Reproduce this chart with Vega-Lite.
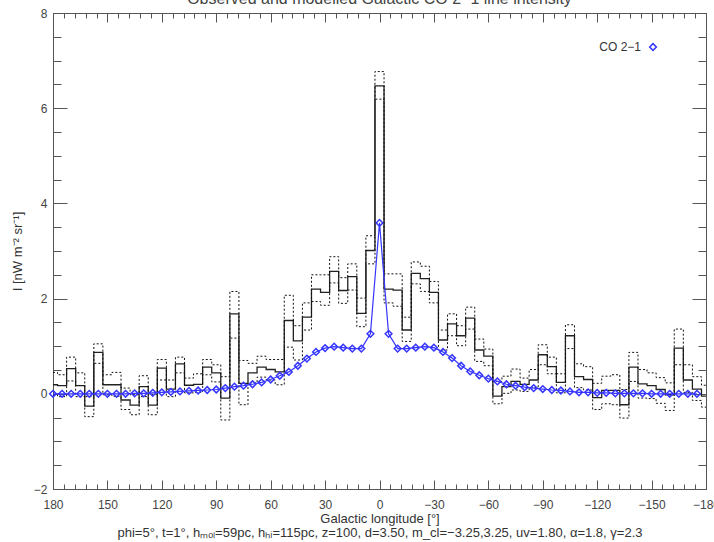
{
  "$schema": "https://vega.github.io/schema/vega-lite/v6.json",
  "width": 653,
  "height": 476,
  "autosize": {"type": "none"},
  "padding": {"left": 53, "top": 13, "right": 8, "bottom": 53},
  "background": "white",
  "config": {
    "view": {"stroke": "#555", "strokeWidth": 1},
    "font": "Liberation Sans",
    "axis": {"grid": false, "domain": false, "tickColor": "#555", "tickWidth": 1, "labelFont": "Liberation Sans", "labelFontSize": 12, "labelColor": "#444", "titleFont": "Liberation Sans", "titleFontSize": 13, "titleFontWeight": "normal", "titleColor": "#333", "labelFlush": false, "labelOverlap": false}
  },
  "title": {"text": "Observed and modelled Galactic CO 2\u22121 line intensity", "anchor": "middle", "frame": "group", "offset": -13, "baseline": "alphabetic", "fontSize": 16, "fontWeight": "normal", "color": "#444", "font": "Liberation Sans"},
  "data": {"values": [
    {"lon": 180, "obs": 0.19, "hi": 0.45, "lo": -0.02, "model": 0.0},
    {"lon": 175, "obs": 0.17, "hi": 0.40, "lo": -0.06, "model": 0.0},
    {"lon": 170, "obs": 0.53, "hi": 0.77, "lo": 0.27, "model": 0.0},
    {"lon": 165, "obs": 0.17, "hi": 0.44, "lo": -0.06, "model": 0.0},
    {"lon": 160, "obs": -0.26, "hi": -0.06, "lo": -0.48, "model": 0.0},
    {"lon": 155, "obs": 0.87, "hi": 1.05, "lo": 0.64, "model": 0.0},
    {"lon": 150, "obs": 0.19, "hi": 0.40, "lo": -0.02, "model": 0.0},
    {"lon": 145, "obs": 0.19, "hi": 0.45, "lo": -0.05, "model": 0.0},
    {"lon": 140, "obs": -0.13, "hi": 0.12, "lo": -0.33, "model": 0.0},
    {"lon": 135, "obs": -0.24, "hi": -0.02, "lo": -0.44, "model": 0.01},
    {"lon": 130, "obs": 0.15, "hi": 0.38, "lo": -0.06, "model": 0.01},
    {"lon": 125, "obs": -0.24, "hi": -0.01, "lo": -0.44, "model": 0.02},
    {"lon": 120, "obs": 0.54, "hi": 0.72, "lo": 0.29, "model": 0.03},
    {"lon": 115, "obs": 0.10, "hi": 0.29, "lo": -0.06, "model": 0.04},
    {"lon": 110, "obs": 0.63, "hi": 0.77, "lo": 0.44, "model": 0.05},
    {"lon": 105, "obs": 0.18, "hi": 0.33, "lo": 0.02, "model": 0.06},
    {"lon": 100, "obs": 0.20, "hi": 0.42, "lo": 0.03, "model": 0.07},
    {"lon": 95, "obs": 0.56, "hi": 0.72, "lo": 0.40, "model": 0.08},
    {"lon": 90, "obs": 0.44, "hi": 0.61, "lo": 0.25, "model": 0.09},
    {"lon": 85, "obs": -0.09, "hi": 0.36, "lo": -0.55, "model": 0.12},
    {"lon": 80, "obs": 1.68, "hi": 2.15, "lo": 1.17, "model": 0.15},
    {"lon": 75, "obs": 0.22, "hi": 0.70, "lo": -0.23, "model": 0.17},
    {"lon": 70, "obs": 0.44, "hi": 0.64, "lo": 0.23, "model": 0.20},
    {"lon": 65, "obs": 0.56, "hi": 0.79, "lo": 0.35, "model": 0.24},
    {"lon": 60, "obs": 0.51, "hi": 0.72, "lo": 0.29, "model": 0.30},
    {"lon": 55, "obs": 0.46, "hi": 0.72, "lo": 0.19, "model": 0.38},
    {"lon": 50, "obs": 1.54, "hi": 2.07, "lo": 0.98, "model": 0.46},
    {"lon": 45, "obs": 1.11, "hi": 1.43, "lo": 0.71, "model": 0.59},
    {"lon": 40, "obs": 1.61, "hi": 1.91, "lo": 1.34, "model": 0.74},
    {"lon": 35, "obs": 2.20, "hi": 2.50, "lo": 1.94, "model": 0.88},
    {"lon": 30, "obs": 2.13, "hi": 2.50, "lo": 1.86, "model": 0.96},
    {"lon": 25, "obs": 2.57, "hi": 2.88, "lo": 2.33, "model": 0.99},
    {"lon": 20, "obs": 2.17, "hi": 2.44, "lo": 1.90, "model": 0.97},
    {"lon": 15, "obs": 2.46, "hi": 2.73, "lo": 2.18, "model": 0.95},
    {"lon": 10, "obs": 1.69, "hi": 2.01, "lo": 1.41, "model": 0.95},
    {"lon": 5, "obs": 3.01, "hi": 3.32, "lo": 2.73, "model": 1.26},
    {"lon": 0, "obs": 6.47, "hi": 6.77, "lo": 6.19, "model": 3.59},
    {"lon": -5, "obs": 2.20, "hi": 2.52, "lo": 1.91, "model": 1.26},
    {"lon": -10, "obs": 2.18, "hi": 2.52, "lo": 1.84, "model": 0.95},
    {"lon": -15, "obs": 1.34, "hi": 1.61, "lo": 1.10, "model": 0.95},
    {"lon": -20, "obs": 2.53, "hi": 2.77, "lo": 2.31, "model": 0.97},
    {"lon": -25, "obs": 2.42, "hi": 2.68, "lo": 2.15, "model": 0.99},
    {"lon": -30, "obs": 2.13, "hi": 2.36, "lo": 1.91, "model": 0.97},
    {"lon": -35, "obs": 1.13, "hi": 1.34, "lo": 0.92, "model": 0.88},
    {"lon": -40, "obs": 1.47, "hi": 1.68, "lo": 1.22, "model": 0.75},
    {"lon": -45, "obs": 1.22, "hi": 1.43, "lo": 1.01, "model": 0.59},
    {"lon": -50, "obs": 1.59, "hi": 1.82, "lo": 1.36, "model": 0.47},
    {"lon": -55, "obs": 0.92, "hi": 1.15, "lo": 0.68, "model": 0.39},
    {"lon": -60, "obs": 0.79, "hi": 0.94, "lo": 0.59, "model": 0.32},
    {"lon": -65, "obs": -0.05, "hi": 0.26, "lo": -0.21, "model": 0.26},
    {"lon": -70, "obs": 0.15, "hi": 0.37, "lo": 0.01, "model": 0.20},
    {"lon": -75, "obs": 0.26, "hi": 0.52, "lo": 0.08, "model": 0.17},
    {"lon": -80, "obs": 0.20, "hi": 0.33, "lo": 0.05, "model": 0.14},
    {"lon": -85, "obs": 0.29, "hi": 0.51, "lo": 0.13, "model": 0.12},
    {"lon": -90, "obs": 0.82, "hi": 1.03, "lo": 0.61, "model": 0.10},
    {"lon": -95, "obs": 0.57, "hi": 0.77, "lo": 0.42, "model": 0.08},
    {"lon": -100, "obs": 0.24, "hi": 0.42, "lo": 0.02, "model": 0.07},
    {"lon": -105, "obs": 1.22, "hi": 1.45, "lo": 0.95, "model": 0.05},
    {"lon": -110, "obs": 0.36, "hi": 0.63, "lo": 0.13, "model": 0.03},
    {"lon": -115, "obs": 0.30, "hi": 0.57, "lo": 0.08, "model": 0.03},
    {"lon": -120, "obs": -0.08, "hi": 0.22, "lo": -0.33, "model": 0.02},
    {"lon": -125, "obs": 0.07, "hi": 0.37, "lo": -0.21, "model": 0.02},
    {"lon": -130, "obs": 0.07, "hi": 0.40, "lo": -0.23, "model": 0.01},
    {"lon": -135, "obs": -0.23, "hi": 0.09, "lo": -0.51, "model": 0.01},
    {"lon": -140, "obs": 0.56, "hi": 0.87, "lo": 0.26, "model": 0.01},
    {"lon": -145, "obs": 0.21, "hi": 0.51, "lo": -0.09, "model": 0.01},
    {"lon": -150, "obs": 0.17, "hi": 0.44, "lo": -0.10, "model": 0.0},
    {"lon": -155, "obs": 0.09, "hi": 0.34, "lo": -0.20, "model": 0.0},
    {"lon": -160, "obs": -0.02, "hi": 0.23, "lo": -0.35, "model": 0.0},
    {"lon": -165, "obs": 0.96, "hi": 1.36, "lo": 0.61, "model": 0.0},
    {"lon": -170, "obs": 0.29, "hi": 0.61, "lo": 0.03, "model": 0.0},
    {"lon": -175, "obs": 0.10, "hi": 0.36, "lo": -0.14, "model": 0.0},
    {"lon": -180, "obs": -0.05, "hi": 0.18, "lo": -0.28, "model": null}
  ]},
  "resolve": {"scale": {"x": "independent", "y": "independent"}, "axis": {"x": "independent", "y": "independent"}},
  "layer": [
    {
      "mark": {"type": "line", "interpolate": "step", "color": "#222", "strokeWidth": 1.3},
      "encoding": {
        "x": {"field": "lon", "type": "quantitative", "scale": {"domain": [-180, 180], "reverse": true, "nice": false, "zero": false},
          "axis": {"orient": "bottom", "values": [180, 150, 120, 90, 60, 30, 0, -30, -60, -90, -120, -150, -180], "tickSize": -9, "labelPadding": 19, "title": ["Galactic longitude [\u00b0]", "phi=5\u00b0, t=1\u00b0, h\u2098\u2092\u2097=59pc, h\u2095\u1d62=115pc, z=100, d=3.50, m_cl=\u22123.25,3.25, uv=1.80, \u03b1=1.8, \u03b3=2.3"], "titlePadding": 2, "titleLineHeight": 14}},
        "y": {"field": "obs", "type": "quantitative", "scale": {"domain": [-2, 8], "nice": false, "zero": false},
          "axis": {"orient": "left", "values": [-2, 0, 2, 4, 6, 8], "tickSize": -14, "labelPadding": 20, "title": "I [nW m\u207b\u00b2 sr\u207b\u00b9]", "titlePadding": 9}}
      }
    },
    {
      "mark": {"type": "line", "interpolate": "step", "color": "#111", "strokeWidth": 1, "strokeDash": [2, 2]},
      "encoding": {
        "x": {"field": "lon", "type": "quantitative", "scale": {"domain": [-180, 180], "reverse": true, "nice": false, "zero": false},
          "axis": {"orient": "bottom", "values": [180,174,168,162,156,150,144,138,132,126,120,114,108,102,96,90,84,78,72,66,60,54,48,42,36,30,24,18,12,6,0,-6,-12,-18,-24,-30,-36,-42,-48,-54,-60,-66,-72,-78,-84,-90,-96,-102,-108,-114,-120,-126,-132,-138,-144,-150,-156,-162,-168,-174,-180], "tickSize": -5, "labels": false, "title": null}},
        "y": {"field": "hi", "type": "quantitative", "scale": {"domain": [-2, 8], "nice": false, "zero": false},
          "axis": {"orient": "left", "values": [-2,-1.5,-1,-0.5,0,0.5,1,1.5,2,2.5,3,3.5,4,4.5,5,5.5,6,6.5,7,7.5,8], "tickSize": -8, "labels": false, "title": null}}
      }
    },
    {
      "mark": {"type": "line", "interpolate": "step", "color": "#111", "strokeWidth": 1, "strokeDash": [2, 2]},
      "encoding": {
        "x": {"field": "lon", "type": "quantitative", "scale": {"domain": [-180, 180], "reverse": true, "nice": false, "zero": false},
          "axis": {"orient": "top", "values": [180, 150, 120, 90, 60, 30, 0, -30, -60, -90, -120, -150, -180], "tickSize": -9, "labels": false, "title": null}},
        "y": {"field": "lo", "type": "quantitative", "scale": {"domain": [-2, 8], "nice": false, "zero": false},
          "axis": {"orient": "right", "values": [-2, 0, 2, 4, 6, 8], "tickSize": -14, "labels": false, "title": null}}
      }
    },
    {
      "transform": [{"filter": "isValid(datum.model)"}],
      "mark": {"type": "line", "strokeWidth": 1.2, "point": {"shape": "diamond", "filled": false, "size": 45, "strokeWidth": 1.5}},
      "encoding": {
        "x": {"field": "lon", "type": "quantitative", "scale": {"domain": [-180, 180], "reverse": true, "nice": false, "zero": false},
          "axis": {"orient": "top", "values": [180,174,168,162,156,150,144,138,132,126,120,114,108,102,96,90,84,78,72,66,60,54,48,42,36,30,24,18,12,6,0,-6,-12,-18,-24,-30,-36,-42,-48,-54,-60,-66,-72,-78,-84,-90,-96,-102,-108,-114,-120,-126,-132,-138,-144,-150,-156,-162,-168,-174,-180], "tickSize": -5, "labels": false, "title": null}},
        "y": {"field": "model", "type": "quantitative", "scale": {"domain": [-2, 8], "nice": false, "zero": false},
          "axis": {"orient": "right", "values": [-2,-1.5,-1,-0.5,0,0.5,1,1.5,2,2.5,3,3.5,4,4.5,5,5.5,6,6.5,7,7.5,8], "tickSize": -8, "labels": false, "title": null}},
        "color": {"datum": "CO 2\u22121", "type": "nominal", "scale": {"range": ["#3535ff"]},
          "legend": {"orient": "none", "legendX": 594, "legendY": 28, "title": null, "symbolType": "diamond", "symbolSize": 45, "symbolStrokeWidth": 1.5, "symbolFillColor": "white", "labelAlign": "right", "labelOffset": -18, "labelFontSize": 12, "labelFont": "Liberation Sans", "labelColor": "#333", "padding": 0}}
      }
    }
  ]
}
